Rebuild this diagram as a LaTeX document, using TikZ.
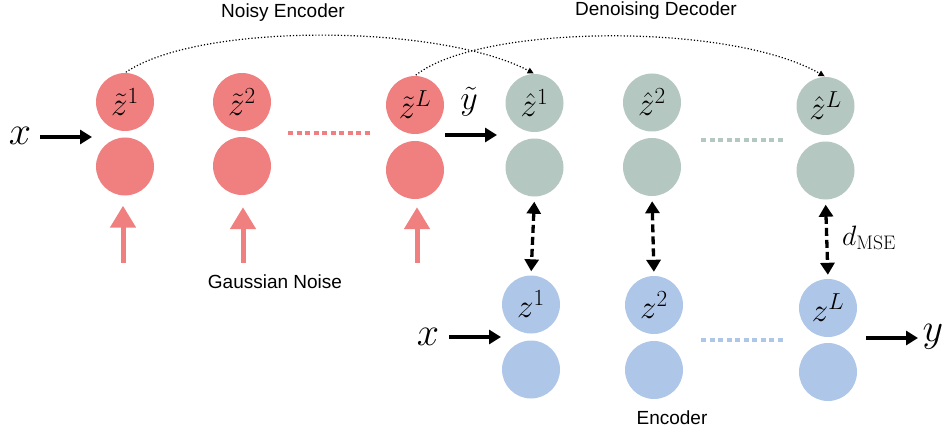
\documentclass[tikz,border=0pt]{standalone}
\usepackage{fix-cm}
\usepackage[no-math]{fontspec}
\setmainfont{Liberation Sans}
\usetikzlibrary{arrows.meta,calc}
\definecolor{cred}{RGB}{240,128,128}
\definecolor{cgray}{RGB}{181,199,193}
\definecolor{cblue}{RGB}{174,198,232}
\begin{document}
\begin{tikzpicture}[x=1pt,y=-1pt,
  neuron/.style={circle,minimum size=58pt,inner sep=0pt,draw=none,font=\fontsize{33}{36}\selectfont},
  rn/.style={neuron,fill=cred},
  gn/.style={neuron,fill=cgray},
  bn/.style={neuron,fill=cblue},
  biglbl/.style={inner sep=0pt,font=\fontsize{40}{44}\selectfont},
  txt/.style={inner sep=0pt,font=\fontsize{19}{22}\selectfont},
  arr/.style={line width=3.5pt,-{Triangle[length=12pt,width=14pt]}},
  darr/.style={line width=3.3pt,dash pattern=on 8pt off 4pt,{Triangle[length=12pt,width=14pt]}-{Triangle[length=12pt,width=14pt]}},
  noise/.style={line width=5pt,cred,-{Triangle[length=22pt,width=25pt]}},
  skip/.style={dotted,line width=1.2pt,-{Triangle[length=6pt,width=6pt]}},
  dots/.style={line width=4pt,dash pattern=on 5pt off 3.5pt},
]
\useasboundingbox (0,0) rectangle (950,433);
% noisy encoder
\node[rn] (e1t) at (125,102) {$\tilde z^1$};
\node[rn] (e1b) at (125,166.5) {};
\node[rn] (e2t) at (242,102) {$\tilde z^2$};
\node[rn] (e2b) at (242,166) {};
\node[rn] (eLt) at (415,105) {$\tilde z^L$};
\node[rn] (eLb) at (415,170) {};
% decoder
\node[gn] (d1t) at (534.5,103) {$\hat z^1$};
\node[gn] (d1b) at (534.5,167.5) {};
\node[gn] (d2t) at (652,102.5) {$\hat z^2$};
\node[gn] (d2b) at (652,167) {};
\node[gn] (dLt) at (825.5,106) {$\hat z^L$};
\node[gn] (dLb) at (825.5,170.5) {};
% clean encoder
\node[bn] (c1t) at (531,304.5) {$z^1$};
\node[bn] (c1b) at (531,369.5) {};
\node[bn] (c2t) at (654,305) {$z^2$};
\node[bn] (c2b) at (654,370) {};
\node[bn] (cLt) at (828,308) {$z^L$};
\node[bn] (cLb) at (828,372) {};
% titles
\node[txt] (tne) at (283,13) {Noisy Encoder};
\node[txt] (tdd) at (656,11) {Denoising Decoder};
\node[txt] (tgn) at (275,282) {Gaussian Noise};
\node[txt] (tenc) at (672,418) {Encoder};
% labels
\node[biglbl] (x1) at (20,136) {$x$};
\node[biglbl] (x2) at (428,337) {$x$};
\node[biglbl] (yout) at (933,337) {$y$};
\node[inner sep=0pt,font=\fontsize{34}{38}\selectfont] (yt) at (469,102) {$\tilde y$};
\node[inner sep=0pt,anchor=west,font=\fontsize{28}{32}\selectfont] (dmse) at (842,238) {$d_{\mathrm{MSE}}$};
% inputs / outputs
\coordinate (x1a) at (40,137);
\coordinate (x1b) at (92,137);
\draw[arr] (x1a) -- (x1b);
\coordinate (x2a) at (449,337);
\coordinate (x2b) at (501,337);
\draw[arr] (x2a) -- (x2b);
\coordinate (ya) at (445,135);
\coordinate (yb) at (497,135);
\draw[arr] (ya) -- (yb);
\coordinate (oa) at (866,338);
\coordinate (ob) at (918,338);
\draw[arr] (oa) -- (ob);
% noise arrows
\coordinate (n1) at (123,263);
\coordinate (n2) at (243,263);
\coordinate (nL) at (417,263);
\draw[noise,shorten >=10pt] (n1) -- (n1 |- e1b.south);
\draw[noise,shorten >=12pt] (n2) -- (n2 |- e2b.south);
\draw[noise,shorten >=8pt] (nL) -- (nL |- eLb.south);
% dashed comparisons
\draw[darr,shorten <=5pt,shorten >=4pt] (d1b.south) -- (c1t.north);
\draw[darr,shorten <=5pt,shorten >=4pt] (d2b.south) -- (c2t.north);
\draw[darr,shorten <=5pt,shorten >=4pt] (dLb.south) -- (cLt.north);
% dotted continuation lines
\draw[cred,dots] (288,133) -- (371,133);
\draw[cgray,dots] (701,140) -- (783,140);
\draw[cblue,dots] (701,340) -- (783,340);
% skip connections
\draw[skip,shorten <=1pt,shorten >=1pt] (e1t.north) .. controls (200,22) and (440,24) .. (d1t.north);
\draw[skip,shorten <=1pt,shorten >=1pt] (eLt.north) .. controls (480,24) and (730,22) .. (dLt.north);
\end{tikzpicture}
\end{document}
